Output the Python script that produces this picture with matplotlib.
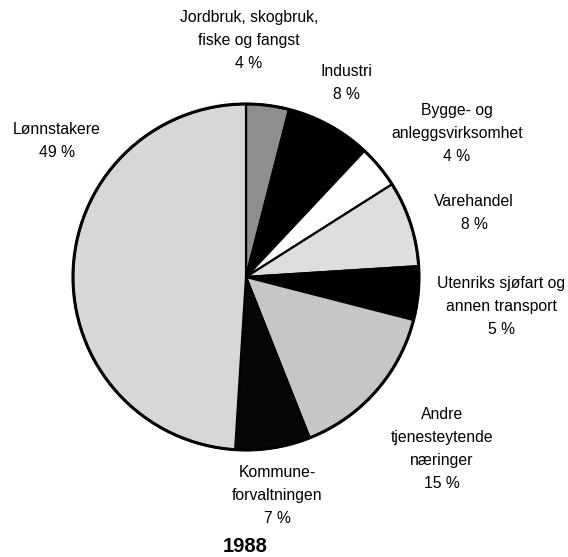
import matplotlib
matplotlib.use("Agg")
import matplotlib.pyplot as plt
from matplotlib.patches import Circle

categories = [
    "Jordbruk, skogbruk,\nfiske og fangst",
    "Industri",
    "Bygge- og\nanleggsvirksomhet",
    "Varehandel",
    "Utenriks sjøfart og\nannen transport",
    "Andre\ntjenesteytende\nnæringer",
    "Kommune-\nforvaltningen",
    "Lønnstakere",
]
values = [4, 8, 4, 8, 5, 15, 7, 49]
title = "1988"

colors = ["#8e8e8e", "#000000", "#ffffff", "#dedede", "#000000", "#c6c6c6", "#050505", "#d7d7d7"]
# label centre x and top y of the first line, in pixel coords
label_pos = [(249, 10), (346, 64), (457, 103), (474, 194), (501, 276), (442, 407), (277, 465), (57, 122)]

W, H = 568, 557
fig = plt.figure(figsize=(W / 100, H / 100), dpi=100)
ax = fig.add_axes([0, 0, 1, 1])

cx, cy, r = 246, H - 277, 173
wedges, _ = ax.pie(values, colors=colors, startangle=90, counterclock=False,
                   center=(cx, cy), radius=r, frame=True,
                   wedgeprops=dict(edgecolor="black", linewidth=1.6))
ax.set_xlim(0, W)
ax.set_ylim(0, H)
ax.set_aspect("equal")
ax.axis("off")
ax.add_patch(Circle((cx, cy), r, fill=False, edgecolor="black", linewidth=2.2))

font = ["Liberation Sans", "DejaVu Sans"]
for name, v, (x, y) in zip(categories, values, label_pos):
    ax.text(x, H - y, f"{name}\n{v} %", ha="center", va="top", fontsize=11.3,
            family=font, linespacing=1.68)
ax.text(245, H - 547, title, ha="center", va="center", fontsize=14.5,
        fontweight="bold", family=font)

fig.savefig("out.png", dpi=100)
